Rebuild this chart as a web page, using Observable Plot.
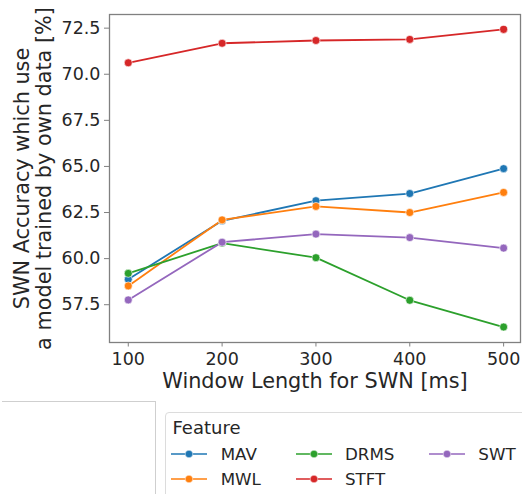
<!DOCTYPE html>
<html><head><meta charset="utf-8">
<script src="https://cdn.jsdelivr.net/npm/d3@7"></script>
<script src="https://cdn.jsdelivr.net/npm/@observablehq/plot@0.6"></script>
<style>
body{margin:0;background:#fff;font-family:"DejaVu Sans",sans-serif;}
#wrap{position:relative;width:522px;height:494px;overflow:hidden;background:#fff;}
#wrap svg{display:block;}
.abs{position:absolute;white-space:nowrap;color:#262626;}
</style></head><body><div id="wrap"></div>
<script>
const windows = [100, 200, 300, 400, 500];
const features = ["MAV", "MWL", "DRMS", "STFT", "SWT"];
const colors = ["#1f77b4", "#ff7f0e", "#2ca02c", "#d62728", "#9467bd"];
const MAV  = [58.88, 62.05, 63.14, 63.53, 64.88];
const MWL  = [58.52, 62.10, 62.83, 62.50, 63.59];
const DRMS = [59.20, 60.84, 60.05, 57.74, 56.29];
const STFT = [70.62, 71.68, 71.83, 71.89, 72.43];
const SWT  = [57.76, 60.89, 61.33, 61.14, 60.57];
const yTicks = [57.5, 60, 62.5, 65, 67.5, 70, 72.5];
const xLabel = "Window Length for SWN [ms]";
const yLabel = "SWN Accuracy which use\na model trained by own data [%]";
const legendTitle = "Feature";

const series = {MAV, MWL, DRMS, STFT, SWT};
const rows = features.flatMap(f => windows.map((w, i) => ({feature: f, window: w, acc: series[f][i]})));

const ink = "#262626";
const spine = "#808080";

const chart = Plot.plot({
  width: 522,
  height: 400,
  marginLeft: 109,
  marginRight: 2,
  marginTop: 14,
  marginBottom: 58,
  style: {fontFamily: "DejaVu Sans, sans-serif", background: "transparent", color: ink},
  x: {domain: [80, 518]},
  y: {domain: [55.45, 73.24]},
  color: {domain: features, range: colors},
  marks: [
    Plot.frame({stroke: spine, strokeWidth: 1.3}),
    Plot.axisX({ticks: windows, tickSize: 4.5, tickPadding: 5.5, fontSize: 17.5, stroke: spine, fill: ink, label: null, tickFormat: d => String(d)}),
    Plot.axisY({ticks: yTicks, tickSize: 5, tickPadding: 4, fontSize: 17.5, stroke: spine, fill: ink, label: null, tickFormat: d => d.toFixed(1)}),
    Plot.line(rows, {x: "window", y: "acc", z: "feature", stroke: "feature", strokeWidth: 1.8}),
    Plot.dot(rows, {x: "window", y: "acc", fill: "feature", r: 4, stroke: "white", strokeWidth: 0.6}),
    Plot.text([xLabel], {frameAnchor: "bottom", lineAnchor: "top", dy: 30.7, fontSize: 20.8, fill: ink}),
    Plot.text([yLabel], {frameAnchor: "left", textAnchor: "middle", rotate: -90, lineAnchor: "middle", lineHeight: 1.04, dx: -76.5, fontSize: 20.8, fill: ink})
  ]
});

const wrap = document.getElementById("wrap");
wrap.appendChild(chart);

// stray frame fragment at lower left
const frag = document.createElement("div");
frag.style.cssText = "position:absolute;left:2px;top:401px;width:153px;height:120px;border-top:1px solid #cfcfcf;border-right:1px solid #cfcfcf;";
wrap.appendChild(frag);

// legend box
const box = document.createElement("div");
box.style.cssText = "position:absolute;left:165px;top:412px;width:420px;height:140px;border:1px solid #dcdcdc;border-radius:4px;background:rgba(255,255,255,0.8);";
wrap.appendChild(box);

const title = document.createElement("div");
title.className = "abs";
title.style.cssText += "left:172.5px;top:418px;font-size:18px;line-height:20px;";
title.textContent = legendTitle;
wrap.appendChild(title);

const colLine = [170.7, 295.7, 429.3];
const colText = [220.7, 345, 478.3];
const rowY = [454, 479];
features.forEach((f, i) => {
  const c = Math.floor(i / 2), r = i % 2;
  const ns = "http://www.w3.org/2000/svg";
  const sw = document.createElementNS(ns, "svg");
  sw.setAttribute("width", 37); sw.setAttribute("height", 12);
  sw.style.cssText = `position:absolute;left:${colLine[c]}px;top:${rowY[r] - 6}px;`;
  const ln = document.createElementNS(ns, "line");
  ln.setAttribute("x1", 0); ln.setAttribute("x2", 36); ln.setAttribute("y1", 6); ln.setAttribute("y2", 6);
  ln.setAttribute("stroke", colors[i]); ln.setAttribute("stroke-width", 2); ln.setAttribute("stroke-opacity", 0.75);
  const ci = document.createElementNS(ns, "circle");
  ci.setAttribute("cx", 18); ci.setAttribute("cy", 6); ci.setAttribute("r", 3.8);
  ci.setAttribute("fill", colors[i]); ci.setAttribute("stroke", "white"); ci.setAttribute("stroke-width", 0.5);
  sw.appendChild(ln); sw.appendChild(ci);
  wrap.appendChild(sw);
  const t = document.createElement("div");
  t.className = "abs";
  t.style.cssText += `left:${colText[c]}px;top:${rowY[r] - 9.7}px;font-size:16.7px;line-height:20px;`;
  t.textContent = f;
  wrap.appendChild(t);
});
</script>
</body></html>
